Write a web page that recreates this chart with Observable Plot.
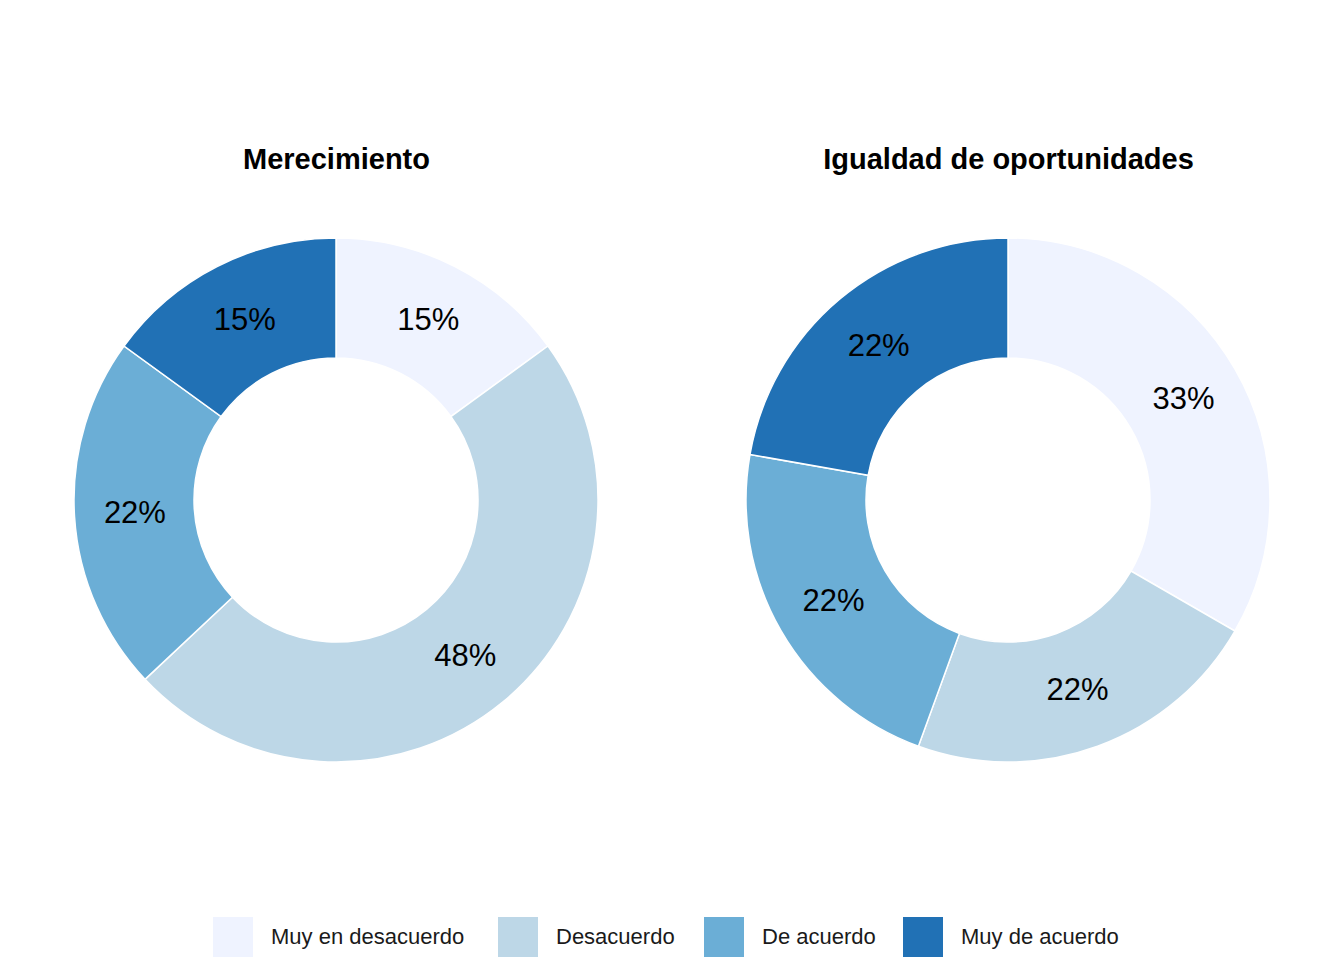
<!DOCTYPE html>
<html>
<head>
<meta charset="utf-8">
<script src="https://cdn.jsdelivr.net/npm/d3@7"></script>
<script src="https://cdn.jsdelivr.net/npm/@observablehq/plot@0.6"></script>
<style>
  body { margin:0; background:#fff; font-family:"Liberation Sans", Arial, sans-serif; }
  #wrap { position:relative; width:1344px; height:960px; }
  #charts { display:flex; }
  #legend { position:absolute; top:917px; left:0; width:1344px; height:40px; }
  .item { position:absolute; top:0; display:flex; align-items:center; font-size:22px; color:#1a1a1a; }
  .sw { width:40px; height:40px; margin-right:18px; }
</style>
</head>
<body>
<div id="wrap"><div id="charts"></div><div id="legend"></div></div>
<script>
// ----------------- data -----------------
const categories = ["Muy en desacuerdo", "Desacuerdo", "De acuerdo", "Muy de acuerdo"];
const colors = ["#EFF3FF", "#BDD7E7", "#6BAED6", "#2171B5"];
const titles = ["Merecimiento", "Igualdad de oportunidades"];
const merecimiento = [15, 48, 22, 15];
const igualdad = [33, 22, 22, 22];
const legendX = [213, 498, 704, 903];

const INNER = 142 / 262;

function donut(title, values){
  const pie = d3.pie().sort(null).value(d => d.value)(
    values.map((v, i) => ({ cat: categories[i], value: v, color: colors[i] })));
  const labelR = (1 + INNER) / 2;
  const labels = pie.map(p => {
    const a = (p.startAngle + p.endAngle) / 2;
    return { x: labelR * Math.sin(a), y: labelR * Math.cos(a), text: p.data.value + "%" };
  });
  // custom arc mark through the plot scales
  const arcs = (index, scales) => {
    const cx = scales.x(0), cy = scales.y(0), R = scales.x(1) - cx;
    const arc = d3.arc().innerRadius(R * INNER).outerRadius(R);
    const g = d3.create("svg:g").attr("transform", `translate(${cx},${cy})`);
    g.selectAll("path").data(pie).join("path")
      .attr("d", arc).attr("fill", d => d.data.color)
      .attr("stroke", "#fff").attr("stroke-width", 1.5);
    return g.node();
  };
  return Plot.plot({
    width: 672, height: 880,
    marginLeft: 74, marginRight: 74, marginTop: 238, marginBottom: 118,
    x: { domain: [-1, 1], axis: null },
    y: { domain: [-1, 1], axis: null },
    style: { fontFamily: "Liberation Sans, Arial, sans-serif" },
    marks: [
      arcs,
      Plot.text(labels, { x: "x", y: "y", text: "text", fontSize: 31, fill: "#000" }),
      Plot.text([title], { frameAnchor: "top", dy: -90, fontSize: 29, fontWeight: "bold", fill: "#000" })
    ]
  });
}

const charts = document.getElementById("charts");
charts.appendChild(donut(titles[0], merecimiento));
charts.appendChild(donut(titles[1], igualdad));

const legend = document.getElementById("legend");
categories.forEach((c, i) => {
  const it = document.createElement("div");
  it.className = "item";
  it.style.left = legendX[i] + "px";
  it.innerHTML = `<span class="sw" style="background:${colors[i]}"></span>${c}`;
  legend.appendChild(it);
});
</script>
</body>
</html>
